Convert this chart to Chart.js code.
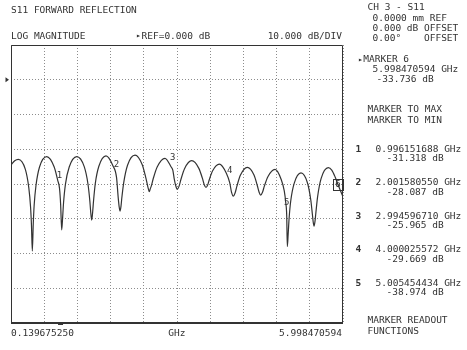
<!DOCTYPE html>
<html>
<head>
<meta charset="utf-8">
<script src="https://cdn.jsdelivr.net/npm/chart.js@4.4.1/dist/chart.umd.min.js"></script>
<style>
html, body { margin: 0; padding: 0; background: #fff; }
#wrap {
    position: relative; width: 467px; height: 350px; overflow: hidden;
    font-family: "DejaVu Sans Mono", "Liberation Mono", monospace;
    font-size: 9.5px; line-height: 10px; color: #333;
}
#wrap canvas { position: absolute; left: 0; top: 0; }
.t { position: absolute; white-space: pre; }
.r { text-align: right; }
.b { font-weight: bold; }
.arr { font-size: 8px; }
</style>
</head>
<body>
<div id="wrap">
<canvas id="chart" width="467" height="350"></canvas>

<div class="t" style="left:11px;top:4.6px">S11 FORWARD REFLECTION</div>
<div class="t" style="left:11px;top:30.6px">LOG MAGNITUDE</div>
<div class="t arr" style="left:136px;top:31px">&#9656;</div>
<div class="t" style="left:141.5px;top:30.6px">REF=0.000 dB</div>
<div class="t r" style="right:125px;top:30.6px">10.000 dB/DIV</div>

<div class="t" style="left:367.5px;top:2.1px">CH 3 - S11</div>
<div class="t" style="left:372.5px;top:13.1px">0.0000 mm REF</div>
<div class="t" style="left:372.5px;top:23.1px">0.000 dB OFFSET</div>
<div class="t" style="left:372.5px;top:33.1px">0.00&#176;    OFFSET</div>

<div class="t arr" style="left:358px;top:54.5px">&#9656;</div>
<div class="t" style="left:363.3px;top:54.1px">MARKER 6</div>
<div class="t" style="left:372.5px;top:64.1px">5.998470594 GHz</div>
<div class="t" style="left:376.5px;top:74.1px">-33.736 dB</div>

<div class="t" style="left:367.5px;top:103.6px">MARKER TO MAX</div>
<div class="t" style="left:367.5px;top:115.1px">MARKER TO MIN</div>

<div id="mkList"></div>

<div class="t" style="left:367.5px;top:315.1px">MARKER READOUT</div>
<div class="t" style="left:367.5px;top:326.1px">FUNCTIONS</div>

<div class="t" style="left:11px;top:328.1px">0.139675250</div>
<div class="t" style="left:168.3px;top:328.1px">GHz</div>
<div class="t r" style="right:125px;top:328.1px">5.998470594</div>
</div>

<script>
// ---------------------------------------------------------
// Sweep limits / reference
// ---------------------------------------------------------
const startGHz = 0.139675250;
const stopGHz = 5.998470594;
const refLevel = 0;       // dB
const dbTop = 10;
const dbBottom = -70;
const dbPerDiv = 10;
const xDivs = 10;

// ---------------------------------------------------------
// Trace
// ---------------------------------------------------------
const freqGHz = [
    0.140, 0.205, 0.269, 0.393, 0.454, 0.485, 0.501, 0.516, 0.532, 0.548,
    0.580, 0.643, 0.770, 0.902, 0.965, 0.996, 1.016, 1.034, 1.051, 1.067,
    1.100, 1.167, 1.299, 1.432, 1.498, 1.531, 1.547, 1.564, 1.580, 1.596,
    1.627, 1.690, 1.816, 1.940, 2.002, 2.032, 2.048, 2.063, 2.080, 2.096,
    2.129, 2.196, 2.328, 2.454, 2.517, 2.549, 2.564, 2.580, 2.597, 2.615,
    2.649, 2.719, 2.857, 2.966, 2.995, 3.020, 3.047, 3.074, 3.106, 3.138,
    3.202, 3.329, 3.455, 3.518, 3.550, 3.581, 3.610, 3.640, 3.698, 3.816,
    3.940, 4.000, 4.032, 4.063, 4.094, 4.125, 4.187, 4.310, 4.428, 4.487,
    4.517, 4.546, 4.578, 4.609, 4.673, 4.799, 4.908, 4.962, 4.989, 5.005,
    5.016, 5.031, 5.046, 5.076, 5.137, 5.257, 5.372, 5.430, 5.458, 5.473,
    5.487, 5.503, 5.519, 5.550, 5.613, 5.739, 5.800, 5.860, 5.920, 5.9985
];
const magDB = [
    -24.5, -23.3, -22.9, -25.8, -31.1, -36.6, -41.9, -49.3, -41.7, -36.2,
    -30.5, -25.1, -22.1, -25.1, -29.0, -31.3, -36.0, -43.2, -39.6, -35.4,
    -30.1, -25.1, -22.1, -25.0, -30.0, -34.9, -38.2, -40.4, -38.2, -34.9,
    -29.9, -24.9, -21.9, -24.8, -28.1, -34.0, -36.5, -37.8, -36.5, -33.9,
    -29.6, -24.6, -21.7, -24.4, -28.1, -30.4, -31.4, -32.2, -31.4, -30.6,
    -28.5, -25.1, -22.6, -25.1, -26.0, -28.5, -30.5, -31.5, -30.6, -28.7,
    -25.6, -23.3, -25.5, -28.4, -30.2, -31.0, -30.3, -28.7, -26.2, -24.3,
    -26.9, -29.7, -32.4, -33.5, -32.6, -30.7, -27.5, -25.2, -27.4, -30.5,
    -32.3, -33.2, -32.4, -30.7, -27.9, -25.8, -28.7, -32.0, -35.5, -39.0,
    -48.0, -44.4, -40.2, -34.9, -29.8, -26.8, -29.7, -34.6, -38.7, -41.0,
    -42.1, -40.9, -38.4, -33.7, -28.4, -25.3, -26.0, -28.0, -30.6, -33.7
];

// ---------------------------------------------------------
// Markers
// ---------------------------------------------------------
const markerNames = ["1", "2", "3", "4", "5", "6"];
const markerFreq = [0.996151688, 2.001580550, 2.994596710, 4.000025572, 5.005454434, 5.998470594];
const markerDB = [-31.318, -28.087, -25.965, -29.669, -38.974, -33.736];
const markerFreqText = ["0.996151688", "2.001580550", "2.994596710", "4.000025572", "5.005454434", "5.998470594"];
const markerDBText = ["-31.318", "-28.087", "-25.965", "-29.669", "-38.974", "-33.736"];
const activeMarker = 5;   // index of marker 6

// marker readout list (markers 1..5) on the right panel
const listTop = [143.6, 177.1, 210.6, 244.1, 277.6];
let html = "";
for (let i = 0; i < 5; i++) {
    html += `<div class="t b" style="left:355.5px;top:${listTop[i]}px">${markerNames[i]}</div>`;
    html += `<div class="t" style="left:375.5px;top:${listTop[i]}px">${markerFreqText[i]} GHz</div>`;
    html += `<div class="t" style="left:386.5px;top:${listTop[i] + 9.5}px">${markerDBText[i]} dB</div>`;
}
document.getElementById("mkList").innerHTML = html;

const points = freqGHz.map((f, i) => ({ x: f, y: magDB[i] }));
const xGrid = [];
for (let i = 0; i <= xDivs; i++) xGrid.push(startGHz + i * (stopGHz - startGHz) / xDivs);

// ---------------------------------------------------------
// Frame, ref arrow and marker labels
// ---------------------------------------------------------
const screenPlugin = {
    id: "screen",
    afterDraw(chart) {
        const { ctx, chartArea: a, scales } = chart;
        const xs = scales.x, ys = scales.y;
        ctx.save();

        // frame
        ctx.strokeStyle = "#333";
        ctx.lineWidth = 1;
        ctx.beginPath();
        ctx.moveTo(a.left + 0.5, a.bottom);
        ctx.lineTo(a.left + 0.5, a.top + 0.5);
        ctx.lineTo(a.right - 0.5, a.top + 0.5);
        ctx.lineTo(a.right - 0.5, a.bottom);
        ctx.stroke();
        ctx.lineWidth = 2;
        ctx.beginPath();
        ctx.moveTo(a.left, a.bottom);
        ctx.lineTo(a.right, a.bottom);
        ctx.stroke();

        // reference arrow
        const yr = ys.getPixelForValue(refLevel);
        ctx.fillStyle = "#333";
        ctx.beginPath();
        ctx.moveTo(a.left - 5.5, yr - 2.5);
        ctx.lineTo(a.left - 2, yr);
        ctx.lineTo(a.left - 5.5, yr + 2.5);
        ctx.closePath();
        ctx.fill();

        // small tick under the axis at marker 1
        const xm1 = xs.getPixelForValue(markerFreq[0]);
        ctx.fillRect(xm1 - 1.5, a.bottom, 5, 2);

        // marker numbers on trace
        ctx.font = "9px 'DejaVu Sans Mono'";
        ctx.textAlign = "center";
        ctx.textBaseline = "middle";
        markerFreq.forEach((f, i) => {
            let x = xs.getPixelForValue(f);
            const y = ys.getPixelForValue(markerDB[i]);
            x = Math.min(x, a.right - 5);
            ctx.fillText(markerNames[i], x, y - 12.5);
            if (i === activeMarker) {
                ctx.lineWidth = 1;
                ctx.strokeRect(Math.round(x - 5) + 0.5, Math.round(y - 18) + 0.5, 10, 11);
            }
        });
        ctx.restore();
    }
};

new Chart(document.getElementById("chart"), {
    type: "line",
    data: {
        datasets: [{
            data: points,
            borderColor: "#333",
            borderWidth: 1.2,
            pointRadius: 0,
            cubicInterpolationMode: "monotone",
            fill: false
        }]
    },
    options: {
        responsive: false,
        animation: false,
        layout: { padding: { left: 11, top: 45, right: 124, bottom: 27 } },
        plugins: { legend: { display: false }, tooltip: { enabled: false } },
        scales: {
            x: {
                type: "linear",
                min: startGHz,
                max: stopGHz,
                afterBuildTicks: (s) => { s.ticks = xGrid.map(v => ({ value: v })); },
                ticks: { display: false },
                grid: { color: "#8c8c8c", lineWidth: 1, drawTicks: false },
                border: { display: false, dash: [1, 2] }
            },
            y: {
                min: dbBottom,
                max: dbTop,
                ticks: { display: false, stepSize: dbPerDiv },
                grid: { color: "#8c8c8c", lineWidth: 1, drawTicks: false },
                border: { display: false, dash: [1, 2] }
            }
        }
    },
    plugins: [screenPlugin]
});
</script>
</body>
</html>
